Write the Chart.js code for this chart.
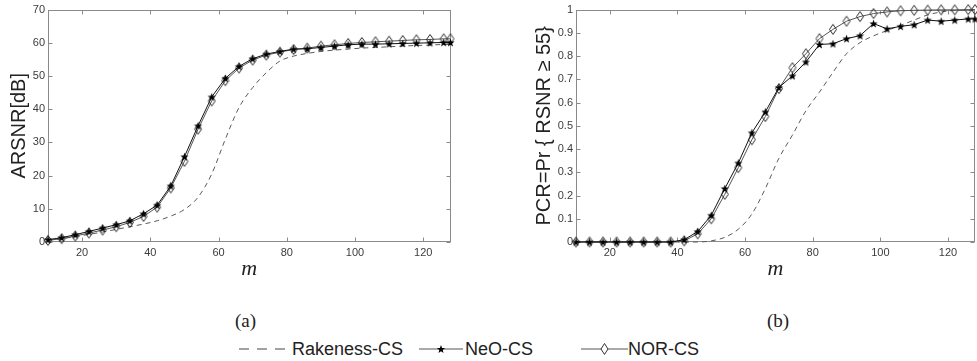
<!DOCTYPE html>
<html><head><meta charset="utf-8">
<script src="https://cdn.jsdelivr.net/npm/chart.js@4"></script>
<style>
html,body{margin:0;padding:0;background:#fff;width:977px;height:361px;overflow:hidden;position:relative;}
.c{position:absolute;top:0;}
.sub{position:absolute;font-family:"Liberation Serif",serif;font-size:19px;color:#222;line-height:20px;}
.lt{position:absolute;font-family:"Liberation Sans",Arial,sans-serif;font-size:18px;color:#222;line-height:20px;top:339px;}
.ls{position:absolute;}
</style></head><body>
<div class="c" style="left:0"><canvas id="ca" width="460" height="290"></canvas></div>
<div class="c" style="left:490px"><canvas id="cb" width="491" height="290"></canvas></div>
<div class="sub" style="left:235px;top:311px">(a)</div>
<div class="sub" style="left:767px;top:311px">(b)</div>

<svg class="ls" style="left:238px;top:344px" width="48" height="10"><line x1="1" y1="5" x2="47" y2="5" stroke="#444" stroke-width="1" stroke-dasharray="10,8"/></svg>
<div class="lt" style="left:292px">Rakeness-CS</div>
<svg class="ls" style="left:419px;top:342px" width="44" height="14"><line x1="0" y1="7" x2="44" y2="7" stroke="#555" stroke-width="1"/><polygon id="starpoly" fill="#000"/></svg>
<div class="lt" style="left:465px">NeO-CS</div>
<svg class="ls" style="left:581px;top:341px" width="47" height="16"><line x1="0" y1="8" x2="47" y2="8" stroke="#555" stroke-width="1"/><polygon points="23.5,2.5 27,8 23.5,13.5 20,8" fill="#fff" stroke="#333" stroke-width="1"/></svg>
<div class="lt" style="left:628px">NOR-CS</div>

<script>
// ---- data ----
const m = [10,14,18,22,26,30,34,38,42,46,50,54,58,62,66,70,74,78,82,86,90,94,98,102,106,110,114,118,122,126,128];
const xTicks = [20,40,60,80,100,120];
const yTicksA = [0,10,20,30,40,50,60,70];
const yTicksB = [0,0.1,0.2,0.3,0.4,0.5,0.6,0.7,0.8,0.9,1];
const seriesNames = ['Rakeness-CS','NeO-CS','NOR-CS'];

// (a) ARSNR [dB]
const rakenessA = [0.5,1.0,1.6,2.3,3.0,3.8,4.6,5.4,6.4,7.8,9.8,13.5,20.5,31.0,40.5,46.5,51.0,54.5,56.0,56.8,57.4,57.8,58.1,58.4,58.6,58.8,59.0,59.2,59.3,59.5,59.5];
const neoA      = [0.7,1.3,2.2,3.2,4.2,5.2,6.4,8.5,11.1,16.9,25.7,35.0,43.7,49.3,52.9,55.2,56.6,57.4,58.1,58.2,58.6,59.0,59.4,59.6,59.6,59.7,59.8,59.9,60.0,60.1,60.1];
const norA      = [0.5,1.0,1.8,2.7,3.6,4.6,5.9,7.7,10.5,16.3,24.3,34.0,42.5,48.6,52.4,54.8,56.3,57.2,58.0,58.4,59.0,59.4,59.8,60.1,60.3,60.5,60.7,60.9,61.0,61.2,61.2];

// (b) PCR = Pr{RSNR >= 55}
const rakenessB = [0,0,0,0,0,0,0,0,0,0,0.005,0.02,0.055,0.12,0.23,0.36,0.46,0.565,0.645,0.73,0.81,0.858,0.887,0.91,0.932,0.955,0.977,0.99,0.996,0.998,1.0];
const neoB      = [0,0,0,0,0,0,0,0,0.01,0.045,0.115,0.23,0.34,0.47,0.56,0.665,0.715,0.775,0.85,0.853,0.875,0.888,0.94,0.917,0.928,0.935,0.955,0.95,0.955,0.96,0.96];
const norB      = [0,0,0,0,0,0,0,0,0.005,0.035,0.10,0.205,0.32,0.44,0.54,0.66,0.75,0.81,0.875,0.915,0.95,0.97,0.983,0.99,0.995,0.997,0.998,0.999,0.999,1.0,1.0];

// ---- marker images ----
function starPoints(cx, cy, R, r){
  const pts=[];
  for(let i=0;i<10;i++){
    const a = -Math.PI/2 + i*Math.PI/5;
    const rr = i%2===0 ? R : r;
    pts.push([cx+rr*Math.cos(a), cy+rr*Math.sin(a)]);
  }
  return pts;
}
function starCanvas(R){
  const s = Math.ceil(R*2+2);
  const c = document.createElement('canvas'); c.width=s; c.height=s;
  const g = c.getContext('2d');
  const p = starPoints(s/2, s/2+0.4, R, R*0.42);
  g.beginPath(); p.forEach((q,i)=> i?g.lineTo(q[0],q[1]):g.moveTo(q[0],q[1])); g.closePath();
  g.fillStyle='#000'; g.fill();
  return c;
}
function diamondCanvas(w,h){
  const c = document.createElement('canvas'); c.width=w+3; c.height=h+3;
  const g = c.getContext('2d');
  const cx=c.width/2, cy=c.height/2;
  g.beginPath(); g.moveTo(cx,cy-h/2); g.lineTo(cx+w/2,cy); g.lineTo(cx,cy+h/2); g.lineTo(cx-w/2,cy); g.closePath();
  g.strokeStyle='#2a2a2a'; g.lineWidth=1; g.stroke();
  return c;
}
const starImg = starCanvas(4.3);
const diaImg = diamondCanvas(7,10);
document.getElementById('starpoly').setAttribute('points', starPoints(22,7.4,4.3,1.8).map(p=>p.join(',')).join(' '));

// ---- box + inward ticks ----
const boxTicks = {
  id:'boxTicks',
  beforeDatasetsDraw(chart){
    const {ctx, chartArea:a, scales:{x,y}} = chart;
    ctx.save();
    ctx.strokeStyle='#8a8a8a'; ctx.lineWidth=1;
    const l=Math.round(a.left)+0.5, r=Math.round(a.right)-0.5, t=Math.round(a.top)+0.5, b=Math.round(a.bottom)-0.5;
    ctx.strokeRect(l,t,r-l,b-t);
    ctx.beginPath();
    const L=4;
    x.ticks.forEach(tk=>{const px=Math.round(x.getPixelForValue(tk.value))+0.5; ctx.moveTo(px,b); ctx.lineTo(px,b-L); ctx.moveTo(px,t); ctx.lineTo(px,t+L);});
    y.ticks.forEach(tk=>{const py=Math.round(y.getPixelForValue(tk.value))+0.5; ctx.moveTo(l,py); ctx.lineTo(l+L,py); ctx.moveTo(r,py); ctx.lineTo(r-L,py);});
    ctx.stroke(); ctx.restore();
  }
};

const tickFont = {family:'"Liberation Sans", Arial, sans-serif', size:11};
const tickColor = '#3c3c3c';

function makeChart(id, rak, neo, nor, yMin, yMax, yTicks, yTitle, yWidth, yTitlePad, pad, fmt){
  const toXY = arr => arr.map((v,i)=>({x:m[i], y:v}));
  return new Chart(document.getElementById(id), {
    type:'line',
    data:{datasets:[
      {label:seriesNames[0], data:toXY(rak), borderColor:'#5a5a5a', borderWidth:1, borderDash:[5,4], pointRadius:0, cubicInterpolationMode:'monotone', order:2, clip:false, fill:false},
      {label:seriesNames[1], data:toXY(neo), borderColor:'#111', borderWidth:1, pointStyle:starImg, pointRadius:5, order:0, clip:false, fill:false, tension:0},
      {label:seriesNames[2], data:toXY(nor), borderColor:'#555', borderWidth:1, pointStyle:diaImg, pointRadius:5, order:1, clip:false, fill:false, tension:0}
    ]},
    options:{
      responsive:false, animation:false, devicePixelRatio:1,
      layout:{padding:pad},
      plugins:{legend:{display:false}, tooltip:{enabled:false}},
      scales:{
        x:{type:'linear', min:10, max:128,
          afterBuildTicks:s=>{s.ticks = xTicks.map(v=>({value:v}));},
          grid:{display:false, drawTicks:false}, border:{display:false},
          ticks:{padding:4, color:tickColor, font:tickFont, maxRotation:0, autoSkip:false},
          title:{display:true, text:'m', color:'#222', font:{family:'"Liberation Serif", serif', style:'italic', size:22}, padding:{top:0,bottom:8}},
          afterFit:s=>{s.height=48;}
        },
        y:{type:'linear', min:yMin, max:yMax,
          afterBuildTicks:s=>{s.ticks = yTicks.map(v=>({value:v}));},
          grid:{display:false, drawTicks:false}, border:{display:false},
          ticks:{padding:3, color:tickColor, font:tickFont, autoSkip:false, callback:fmt},
          title:{display:true, text:yTitle, color:'#222', font:{family:'"Liberation Sans", Arial, sans-serif', size:20}, padding:{top:yTitlePad,bottom:0}},
          afterFit:s=>{s.width=yWidth;}
        }
      }
    },
    plugins:[boxTicks]
  });
}

makeChart('ca', rakenessA, neoA, norA, 0, 70, yTicksA, 'ARSNR[dB]', 48, 7, {top:8, right:9.5, left:0, bottom:0}, v=>String(v));
makeChart('cb', rakenessB, neoB, norB, 0, 1, yTicksB, 'PCR=Pr { RSNR \u2265 55}', 86, 42, {top:9.5, right:0, left:0, bottom:0}, v=>String(+Number(v).toFixed(1)));
</script>
</body></html>
